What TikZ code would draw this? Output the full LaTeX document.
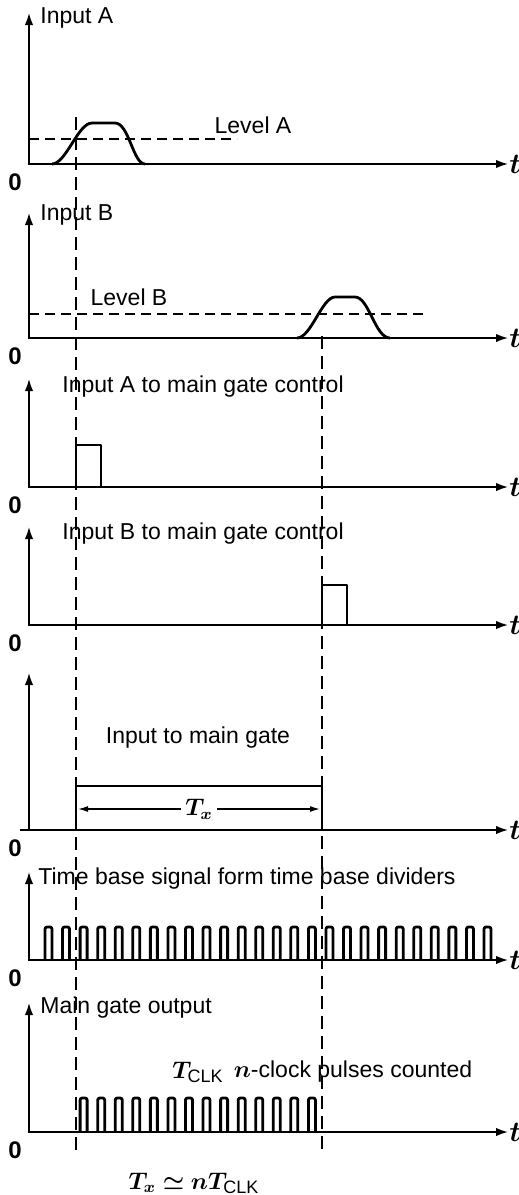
\documentclass[tikz,border=0pt]{standalone}
\usepackage{fontspec}
\setmainfont{Liberation Sans}
\usepackage{amsmath,bm}
\usetikzlibrary{arrows.meta}
\tikzset{
    axis/.style = {line width=0.8pt, <->, >={Latex[length=6pt,width=4.2pt]}},
    sig/.style = {line width=1.4pt, line join=round},
    pulse/.style = {sig, rounded corners=1pt},
    guide/.style = {line width=0.6pt, dash pattern=on 6.5pt off 3.5pt},
    lvl/.style = {line width=0.8pt, dash pattern=on 5pt off 3pt},
    lbl/.style = {font=\fontsize{11.5}{13}\selectfont, inner sep=0pt},
    zero/.style = {font=\fontsize{12}{13}\selectfont\bfseries, inner sep=0pt},
    tlbl/.style = {font=\Large, inner sep=0pt}
}

\begin{document}
\begin{tikzpicture}[x=0.5pt, y=-0.5pt]
  \useasboundingbox (0,0) rectangle (519,1195);

  % Axis corners of the seven panels
  \foreach \n/\yo/\yt in {1/164/13, 2/338/213, 3/487/379, 4/625/527,
                          5/830/673, 6/960/872, 7/1132/1003}{
    \coordinate (y\n) at (29,\yt);
    \coordinate (o\n) at (29,\yo);
    \coordinate (t\n) at (508,\yo);
    \draw[axis] (y\n) -- (o\n) -- (t\n);
    \node[tlbl, anchor=west] (tt\n) at (509,\yo) {$\bm{t}$};
    \node[zero] (z\n) at (15,\yo+18) {0};
  }

  % Panel labels
  \node[lbl, anchor=west] (la)  at (40,18)   {Input A};
  \node[lbl, anchor=west] (lb)  at (40,215)  {Input B};
  \node[lbl, anchor=west] (lga) at (62,387)  {Input A to main gate control};
  \node[lbl, anchor=west] (lgb) at (62,534)  {Input B to main gate control};
  \node[lbl]              (lmg) at (198,738) {Input to main gate};
  \node[lbl, anchor=west] (ltb) at (38,879)  {Time base signal form time base dividers};
  \node[lbl, anchor=west] (lmo) at (40,1008) {Main gate output};

  % Trigger levels
  \coordinate (lva) at (237,139);
  \coordinate (lvb) at (427,314);
  \draw[lvl] (29,139) -- (lva);
  \draw[lvl] (29,314) -- (lvb);
  \node[lbl] (tla) at (253,125) {Level A};
  \node[lbl] (tlb) at (129,297) {Level B};

  % Input pulses
  \draw[sig] (52,164) .. controls (66,164) and (78,123) .. (92,123) -- (115,123)
             .. controls (129,123) and (133,164) .. (145,164);
  \draw[sig] (297,338) .. controls (311,338) and (322,297) .. (335,297) -- (355,297)
             .. controls (369,297) and (375,338) .. (390,338);

  % Gate control pulses
  \draw[sig] (76,487) -- (76,445) -- (101,445) -- (101,487);
  \draw[sig] (322,625) -- (322,585) -- (347,585) -- (347,625);

  % Main gate input
  \draw[sig] (20,830) -- (76,830) -- (76,786) -- (322,786) -- (322,830) -- (480,830);
  \coordinate (txa) at (78,809);
  \coordinate (txb) at (320,809);
  \draw[line width=0.7pt, <->, >={Latex[length=5pt,width=3pt]}] (txa) -- (txb)
    node[midway, fill=white, inner sep=2pt, font=\large] (tx) {$\bm{T_x}$};

  % Time base pulses
  \foreach \k in {0,...,25}{
    \pgfmathsetmacro{\xa}{45+17.56*\k}
    \draw[pulse] (\xa,960) -- (\xa,927) -- (\xa+7,927) -- (\xa+7,960);
  }

  % Counted pulses
  \foreach \k in {2,...,15}{
    \pgfmathsetmacro{\xa}{45+17.56*\k}
    \draw[pulse] (\xa,1132) -- (\xa,1098) -- (\xa+7,1098) -- (\xa+7,1132);
  }
  \node[lbl, font=\large] (tclk) at (198,1072) {$\bm{T}_{\text{\small CLK}}$};
  \node[lbl] (ncnt) at (353,1072) {$\bm{n}$-clock pulses counted};
  \node[lbl, font=\large] (txn) at (194,1183) {$\bm{T_x \simeq n T}_{\text{\small CLK}}$};

  % Gate edges
  \coordinate (ga) at (76,117);
  \coordinate (gb) at (76,1150);
  \coordinate (gc) at (322,336);
  \coordinate (gd) at (322,1150);
  \draw[guide] (ga) -- (gb);
  \draw[guide] (gc) -- (gd);
\end{tikzpicture}
\end{document}
